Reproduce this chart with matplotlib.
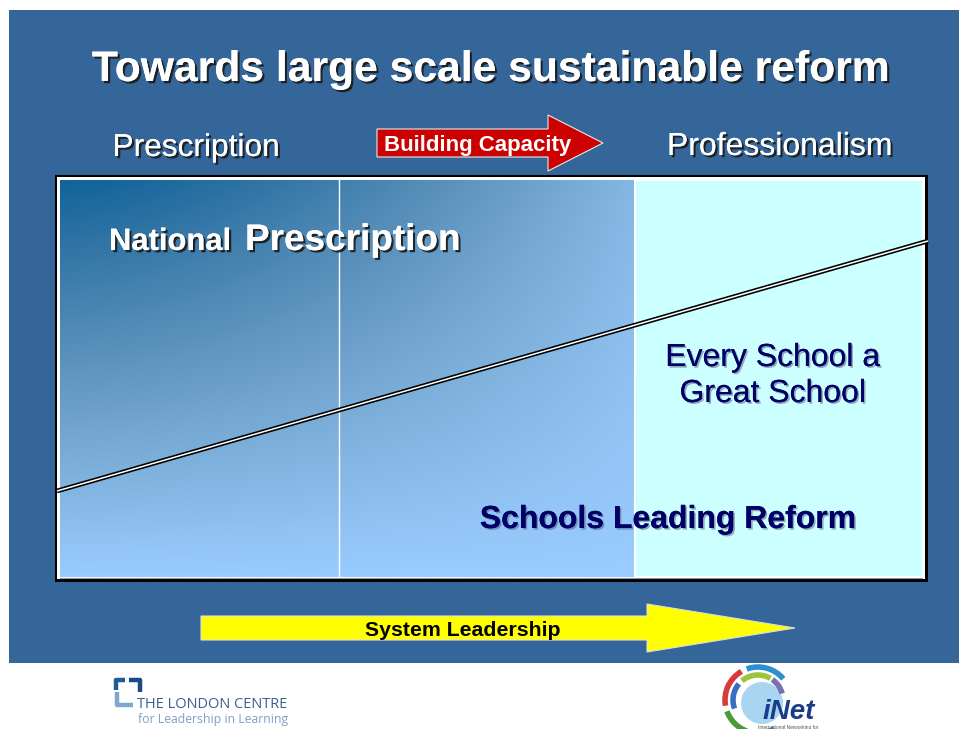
import numpy as np
import matplotlib
matplotlib.use("Agg")
import matplotlib.pyplot as plt
from matplotlib.patches import Rectangle, Polygon, Arc
import matplotlib.patheffects as pe

# ---- content ----
title = "Towards large scale sustainable reform"
left_label = "Prescription"
right_label = "Professionalism"
red_arrow_label = "Building Capacity"
yellow_arrow_label = "System Leadership"
np_small, np_big = "National", "Prescription"
every_school_lines = ["Every School a", "Great School"]
schools_leading = "Schools Leading Reform"
london_lines = ["THE LONDON CENTRE", "for Leadership in Learning"]
inet_label = "iNet"

# ---- layout constants (pixels) ----
W, H = 959, 729
BG = "#346699"
NAVY = "#000066"

plt.rcParams['font.family'] = ['Liberation Sans', 'DejaVu Sans']
fig = plt.figure(figsize=(W / 100, H / 100), dpi=100)
fig.patch.set_facecolor("white")
ax = fig.add_axes([0, 0, 1, 1])
ax.set_xlim(0, W)
ax.set_ylim(H, 0)
ax.axis("off")

# slide background
ax.add_patch(Rectangle((9, 10), W - 9, 653, facecolor=BG, edgecolor="none", zorder=0))

# panel frame
ax.add_patch(Rectangle((55, 175), 873, 407, facecolor="black", edgecolor="none", zorder=1))
ax.add_patch(Rectangle((57, 177), 868, 402, facecolor="white", edgecolor="none", zorder=1.1))

# gradient region
gx0, gx1, gy0, gy1 = 60, 634, 180, 577
nx, ny = 300, 200
u = np.linspace(0, 1, nx)[None, :]
v = np.linspace(0, 1, ny)[:, None]
t = 1 - (1 - 0.8 * u ** 1.5) * (1 - v)
dark = np.array([17, 100, 155]) / 255.0
light = np.array([153, 204, 255]) / 255.0
img = dark[None, None, :] * (1 - t[..., None]) + light[None, None, :] * t[..., None]
gray = img.mean(axis=2, keepdims=True)
w = (4 * t * (1 - t))[..., None] * 0.2
img = img * (1 - w) + gray * w
ax.imshow(np.clip(img, 0, 1), extent=(gx0, gx1, gy1, gy0), origin="upper", aspect="auto",
          interpolation="bilinear", zorder=1.2)
ax.add_patch(Rectangle((636, 181), 286, 395, facecolor="#ccffff", edgecolor="none", zorder=1.2))
ax.plot([339, 339], [180, 577], color="white", lw=1.0, zorder=1.3)
ax.plot([60, 922], [577.5, 577.5], color="#8899aa", lw=0.8, zorder=1.3)

# double diagonal line
lx = [57, 928]
ly = [491, 241]
ax.plot(lx, ly, color="black", lw=3.4, zorder=2, solid_capstyle="butt")
ax.plot(lx, ly, color="white", lw=1.1, zorder=2.1, solid_capstyle="butt")

shadow_dark = [pe.withSimplePatchShadow(offset=(1.6, -1.6), shadow_rgbFace="#1a1a1a", alpha=0.9), pe.Normal()]
shadow_light = [pe.withSimplePatchShadow(offset=(1.2, -1.2), shadow_rgbFace="#555577", alpha=0.5), pe.Normal()]

# title
ax.text(491, 70, title, color="white", fontsize=30.7, fontweight="bold",
        ha="center", va="center", path_effects=shadow_dark, zorder=5)

# header labels
ax.text(196, 148, left_label, color="white", fontsize=22.8, ha="center", va="center",
        path_effects=shadow_dark, zorder=5)
ax.text(780, 147, right_label, color="white", fontsize=23, ha="center", va="center",
        path_effects=shadow_dark, zorder=5)

# red arrow
red_pts = [(377, 129), (548, 129), (548, 115), (603, 143), (548, 171), (548, 157), (377, 157)]
ax.add_patch(Polygon(red_pts, closed=True, facecolor="#cc0000", edgecolor="#e8e8e8", lw=0.8, zorder=3))
ax.text(478, 145.5, red_arrow_label, color="white", fontsize=16, fontweight="bold",
        ha="center", va="center", zorder=5)

# National Prescription
ax.text(109, 250, np_small, color="white", fontsize=22.3, fontweight="bold",
        ha="left", va="baseline", path_effects=shadow_dark, zorder=5)
ax.text(245, 250, np_big, color="white", fontsize=26.6, fontweight="bold",
        ha="left", va="baseline", path_effects=shadow_dark, zorder=5)

# Every School a Great School
for i, line in enumerate(every_school_lines):
    ax.text(773, 358 + 36 * i, line, color=NAVY, fontsize=23, ha="center", va="center",
            path_effects=shadow_light, zorder=5)

# Schools Leading Reform
ax.text(668, 520, schools_leading, color=NAVY, fontsize=23, fontweight="bold",
        ha="center", va="center", path_effects=shadow_light, zorder=5)

# yellow arrow
yel_pts = [(201, 616), (647, 616), (647, 604), (795, 628), (647, 652), (647, 640), (201, 640)]
ax.add_patch(Polygon(yel_pts, closed=True, facecolor="#ffff00", edgecolor="#dddddd", lw=0.8, zorder=3))
ax.text(463, 631, yellow_arrow_label, color="black", fontsize=15.3, fontweight="bold",
        ha="center", va="center", zorder=5)

# London Centre logo
ax.plot([116, 116, 125], [690, 680, 680], color="#1f5b94", lw=3.2, solid_capstyle="butt", zorder=4)
ax.plot([129, 140, 140], [680, 680, 692], color="#1a4a86", lw=3.2, solid_capstyle="butt", zorder=4)
ax.plot([117, 117, 133], [692, 705, 705], color="#7fa6cf", lw=3.2, solid_capstyle="butt", zorder=4)
ax.text(137, 704, london_lines[0], color="#3c5f8e", fontsize=10.5, ha="left", va="center",
        family=["Open Sans", "DejaVu Sans"], zorder=4)
ax.text(138, 719, london_lines[1], color="#7fa0c8", fontsize=8.8, ha="left", va="center",
        family=["Open Sans", "DejaVu Sans"], zorder=4)

# iNet logo
cx, cy = 758, 700
ax.add_patch(plt.Circle((cx + 4, cy + 3), 21, facecolor="#a8d6f0", edgecolor="none", zorder=4))
arc_specs = [(33, 120, 190, "#d93a3a"), (33, 200, 250, "#4a9a3a"), (33, 40, 110, "#2b8fd0"),
             (25, 60, 130, "#9bc53d"), (25, 140, 200, "#3a6fc0"), (33, 255, 300, "#3aa0d8"),
             (25, 15, 55, "#7a6fb0")]
for r, a0, a1, col in arc_specs:
    ax.add_patch(Arc((cx, cy), 2 * r, 2 * r, theta1=-a1, theta2=-a0, color=col, lw=4.0, zorder=4.2))
ax.text(789, 712, inet_label, color="#1b3c8c", fontsize=20, fontweight="bold", style="italic",
        ha="center", va="center", zorder=5)
ax.text(788, 727, "International Networking for", color="#555555", fontsize=3.5,
        ha="center", va="center", zorder=5)

fig.savefig("out.png", dpi=100, facecolor="white")
